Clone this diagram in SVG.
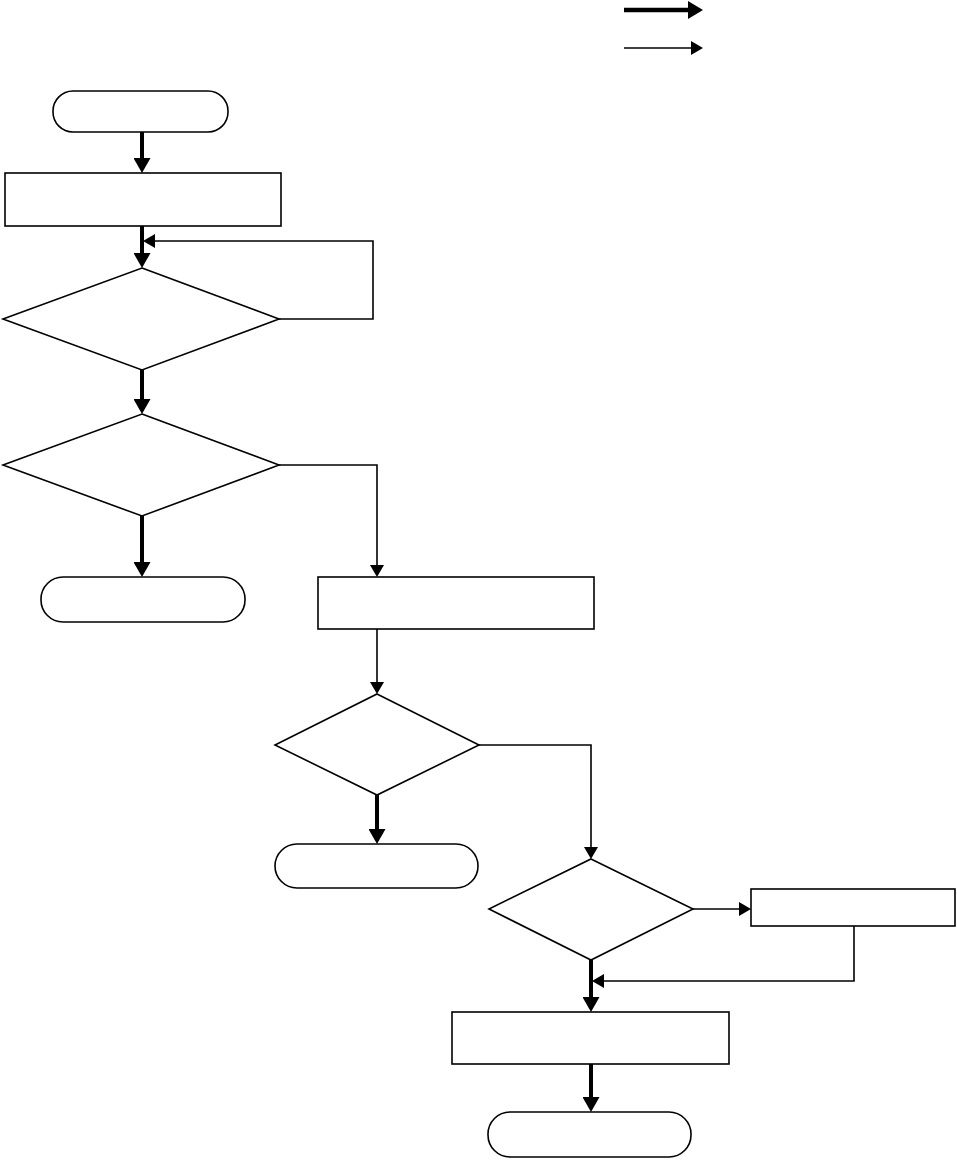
<svg xmlns="http://www.w3.org/2000/svg" width="957" height="1160" viewBox="0 0 957 1160">
<style>
.node{fill:#fff;stroke:#000;stroke-width:1.6}
.thick{fill:none;stroke:#000;stroke-width:4}
.thin{fill:none;stroke:#000;stroke-width:1.6}
.legend-thick{fill:none;stroke:#000;stroke-width:4.6}
</style>
<defs>
<marker id="ah-thick" markerUnits="userSpaceOnUse" viewBox="0 0 15 17" refX="0" refY="8.5" markerWidth="15" markerHeight="17" orient="auto"><path d="M0,0 L15,8.5 L0,17 z" fill="#000"/></marker>
<marker id="ah-legend" markerUnits="userSpaceOnUse" viewBox="0 0 15 18" refX="0" refY="9" markerWidth="15" markerHeight="18" orient="auto"><path d="M0,0 L15,9 L0,18 z" fill="#000"/></marker>
<marker id="ah-thin" markerUnits="userSpaceOnUse" viewBox="0 0 12 14" refX="0" refY="7" markerWidth="12" markerHeight="14" orient="auto"><path d="M0,0 L12,7 L0,14 z" fill="#000"/></marker>
</defs>
<rect width="957" height="1160" fill="#fff"/>
<g id="legend">
<path class="legend-thick" d="M624,10 H688" marker-end="url(#ah-legend)"/>
<path class="thin" d="M624,48 H691" marker-end="url(#ah-thin)"/>
</g>
<g id="start"><rect class="node" x="53" y="91" width="175" height="41" rx="20"/></g>
<g id="process1"><rect class="node" x="5" y="173" width="276" height="53"/></g>
<g id="decision1"><polygon class="node" points="142,268 279,319 142,370 3,319"/></g>
<g id="decision2"><polygon class="node" points="142,414 279,465 142,516 3,465"/></g>
<g id="end1"><rect class="node" x="41" y="577" width="204" height="45" rx="22"/></g>
<g id="process2"><rect class="node" x="318" y="577" width="276" height="52"/></g>
<g id="decision3"><polygon class="node" points="377,694 479,745 377,795 275,745"/></g>
<g id="end2"><rect class="node" x="275" y="844" width="203" height="44" rx="22"/></g>
<g id="decision4"><polygon class="node" points="591,859 693,909 591,960 489,909"/></g>
<g id="process3"><rect class="node" x="751" y="889" width="204" height="37"/></g>
<g id="process4"><rect class="node" x="452" y="1012" width="277" height="52"/></g>
<g id="end3"><rect class="node" x="488" y="1112" width="203" height="45" rx="22"/></g>
<g id="connectors">
<path class="thick" d="M142,132 V158" marker-end="url(#ah-thick)"/>
<path class="thick" d="M142,226 V253" marker-end="url(#ah-thick)"/>
<path class="thin" d="M279,319 H373 V241 H155" marker-end="url(#ah-thin)"/>
<path class="thick" d="M142,370 V399" marker-end="url(#ah-thick)"/>
<path class="thick" d="M142,516 V562" marker-end="url(#ah-thick)"/>
<path class="thin" d="M279,465 H377 V565" marker-end="url(#ah-thin)"/>
<path class="thin" d="M377,629 V682" marker-end="url(#ah-thin)"/>
<path class="thick" d="M377,795 V829" marker-end="url(#ah-thick)"/>
<path class="thin" d="M479,745 H591 V847" marker-end="url(#ah-thin)"/>
<path class="thin" d="M693,909 H739" marker-end="url(#ah-thin)"/>
<path class="thin" d="M854,926 V981 H604" marker-end="url(#ah-thin)"/>
<path class="thick" d="M591,960 V997" marker-end="url(#ah-thick)"/>
<path class="thick" d="M591,1064 V1097" marker-end="url(#ah-thick)"/>
</g>
</svg>
